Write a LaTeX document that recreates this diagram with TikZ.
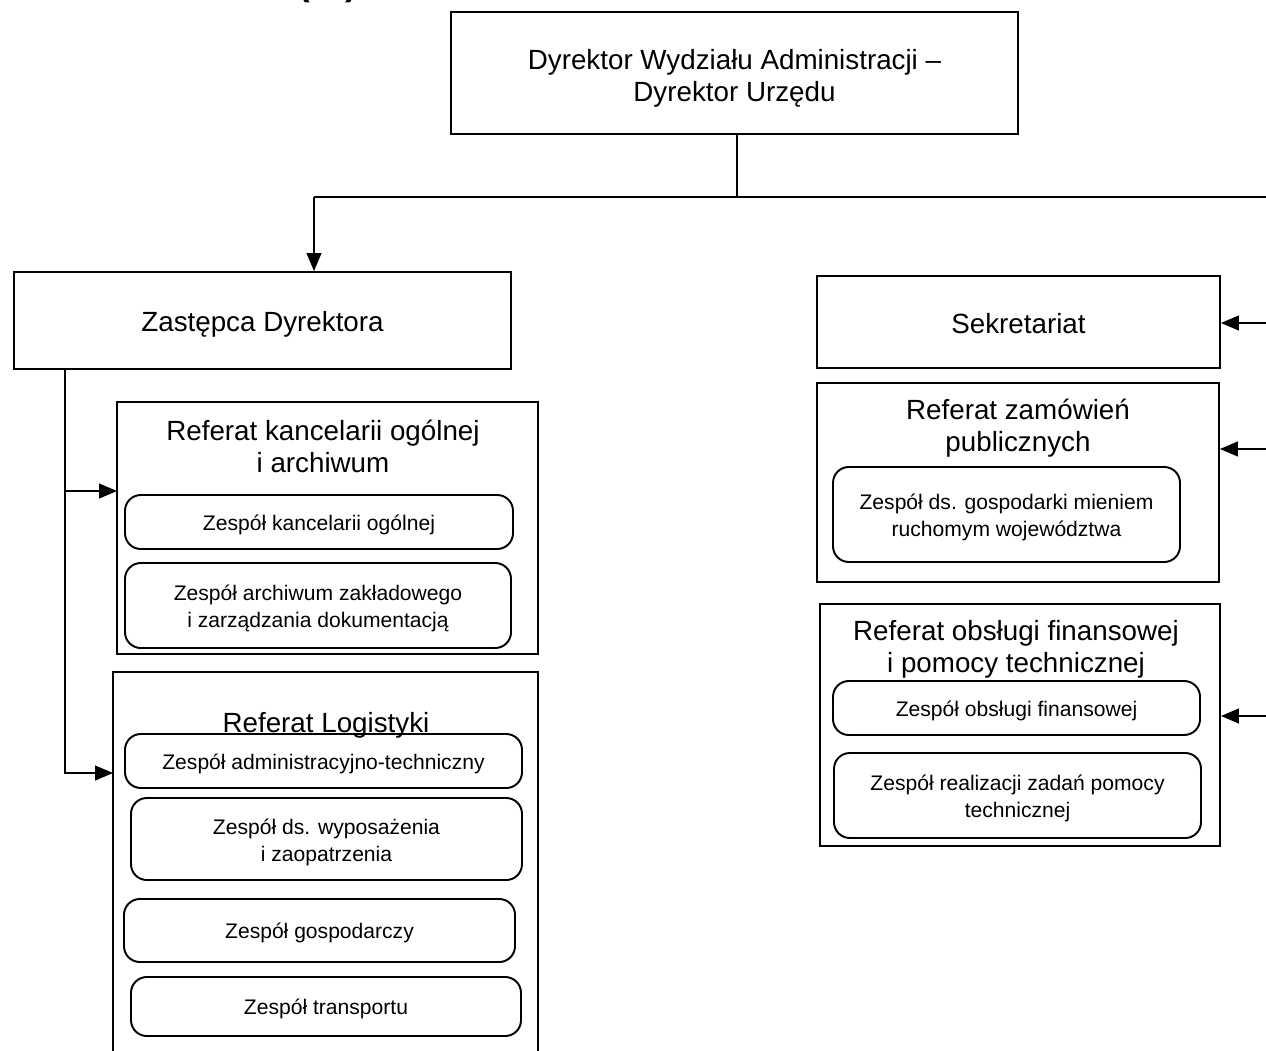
\documentclass[tikz,border=0pt]{standalone}
\usepackage{fontspec}
\setmainfont{Liberation Sans}
\usetikzlibrary{arrows.meta}
% raises the first line of a node text
\newcommand{\topgap}[1]{\rule{0pt}{#1}}
\begin{document}
\begin{tikzpicture}[
		unitbox/.style={draw, line width=1.1pt, inner sep=0pt, align=center, font=\fontsize{15.8}{18.3}\selectfont},
		teambox/.style={draw, line width=1.1pt, rounded corners=9pt, inner sep=0pt, align=center, font=\fontsize{12}{15.3}\selectfont},
		oneline/.style={text height=#1, text depth=0.24*#1},
		unittitle/.style={align=center, inner sep=0pt, font=\fontsize{15.8}{18.3}\selectfont},
		link/.style={line width=0.6pt},
		arr/.style={line width=0.6pt, -{Triangle[length=3.6mm,width=3mm]}}
	]
		% frame of the page
		\useasboundingbox (0,0) rectangle (25.32,-21.02);
		% cut heading
		\node[anchor=base, inner sep=0pt, font=\fontsize{20}{24}\selectfont\bfseries] (cut) at (6.56,0.09) {(…)};
		% director
		\node[unitbox, minimum width=11.34cm, minimum height=2.44cm] (dyr) at (14.69,-1.46) {\topgap{17.8pt}Dyrektor Wydziału Administracji –\\Dyrektor Urzędu};
		% deputy and secretariat
		\node[unitbox, oneline=16.5pt, minimum width=9.94cm, minimum height=1.94cm] (zast) at (5.25,-6.41) {Zastępca Dyrektora};
		\node[unitbox, oneline=16.5pt, minimum width=8.06cm, minimum height=1.84cm] (sekr) at (20.37,-6.44) {Sekretariat};
		% referat kancelarii
		\node[unitbox, minimum width=8.42cm, minimum height=5.04cm] (refKanc) at (6.55,-10.56) {};
		\node[unittitle] (refKancT) at (6.46,-8.93) {Referat kancelarii ogólnej\\ i archiwum};
		\node[teambox, oneline=12.4pt, minimum width=7.76cm, minimum height=1.08cm] (zKanc) at (6.38,-10.44) {Zespół kancelarii ogólnej};
		\node[teambox, minimum width=7.72cm, minimum height=1.70cm] (zArch) at (6.36,-12.11) {\topgap{12.4pt}Zespół archiwum zakładowego\\ i zarządzania dokumentacją};
		% referat logistyki
		\node[unitbox, minimum width=8.5cm, minimum height=8.16cm] (refLog) at (6.51,-17.52) {};
		\node[unittitle] (refLogT) at (6.52,-14.5) {Referat Logistyki};
		\node[teambox, oneline=12.4pt, minimum width=7.94cm, minimum height=1.08cm] (zAdm) at (6.47,-15.22) {Zespół administracyjno-techniczny};
		\node[teambox, minimum width=7.82cm, minimum height=1.64cm] (zWyp) at (6.53,-16.78) {\topgap{12.6pt}Zespół ds. wyposażenia\\ i zaopatrzenia};
		\node[teambox, oneline=12.4pt, minimum width=7.82cm, minimum height=1.26cm] (zGosp) at (6.39,-18.61) {Zespół gospodarczy};
		\node[teambox, oneline=12.4pt, minimum width=7.80cm, minimum height=1.18cm] (zTrans) at (6.52,-20.13) {Zespół transportu};
		% referat zamowien
		\node[unitbox, minimum width=8.04cm, minimum height=3.98cm] (refZam) at (20.36,-9.65) {};
		\node[unittitle] (refZamT) at (20.36,-8.56) {Referat zamówień\\ publicznych};
		\node[teambox, minimum width=6.94cm, minimum height=1.90cm] (zMien) at (20.13,-10.29) {\topgap{12.4pt}Zespół ds. gospodarki mieniem\\ ruchomym województwa};
		% referat finansowy
		\node[unitbox, minimum width=8.0cm, minimum height=4.84cm] (refFin) at (20.4,-14.5) {};
		\node[unittitle] (refFinT) at (20.32,-12.98) {Referat obsługi finansowej\\ i pomocy technicznej};
		\node[teambox, oneline=12.4pt, minimum width=7.34cm, minimum height=1.08cm] (zObs) at (20.33,-14.16) {Zespół obsługi finansowej};
		\node[teambox, minimum width=7.34cm, minimum height=1.70cm] (zReal) at (20.35,-15.91) {\topgap{12.6pt}Zespół realizacji zadań pomocy\\ technicznej};
		% junctions
		\coordinate (jTop) at (14.74,-3.94);
		\coordinate (jLeft) at (6.28,-3.94);
		\coordinate (jRight) at (25.32,-3.94);
		\coordinate (zDown) at (1.30,-7.38);
		\coordinate (kIn) at (2.34,-9.82);
		\coordinate (lIn) at (2.26,-15.46);
		\coordinate (sIn) at (25.32,-6.46);
		\coordinate (zIn) at (25.32,-8.98);
		\coordinate (fIn) at (25.32,-14.32);
		% lines from the director
		\draw[link] (dyr.south -| jTop) -- (jTop);
		\draw[link] (jLeft) -- (jRight);
		\draw[arr] (jLeft) -- (jLeft |- zast.north);
		% lines from the deputy
		\draw[arr] (zDown) |- (kIn);
		\draw[arr] (zDown) |- (lIn);
		% arrows from the right
		\draw[arr] (sIn) -- (sIn -| sekr.east);
		\draw[arr] (zIn) -- (zIn -| refZam.east);
		\draw[arr] (fIn) -- (fIn -| refFin.east);
	\end{tikzpicture}
\end{document}
